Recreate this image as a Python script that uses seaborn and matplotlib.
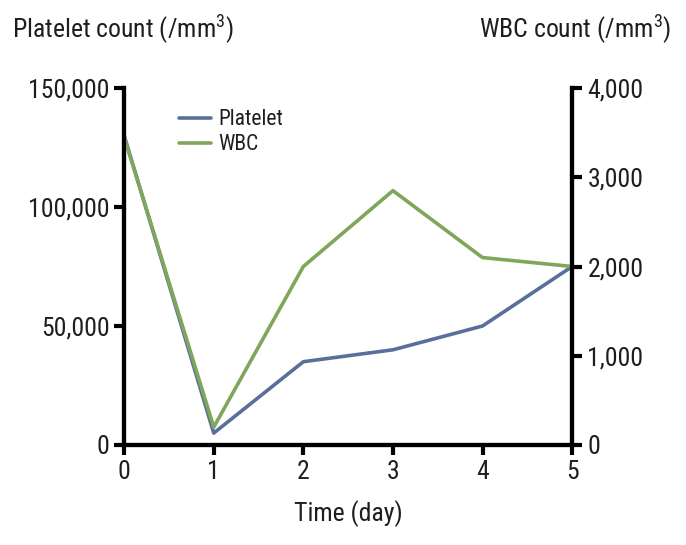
import pandas as pd
import numpy as np
import matplotlib
matplotlib.use("Agg")
import matplotlib.pyplot as plt
import seaborn as sns


# DATA

days = [0, 1, 2, 3, 4, 5]
platelet = [130000, 5000, 35000, 40000, 50000, 75000]
wbc = [3450, 200, 2000, 2850, 2100, 2000]

platelet_ticks = [0, 50000, 100000, 150000]
platelet_labels = ["0", "50,000", "100,000", "150,000"]
wbc_ticks = [0, 1000, 2000, 3000, 4000]
wbc_labels = ["0", "1,000", "2,000", "3,000", "4,000"]

df = pd.DataFrame({"day": days, "Platelet": platelet, "WBC": wbc})

sns.set_style("ticks")
plt.rcParams["font.family"] = ["Roboto Condensed", "Liberation Sans", "DejaVu Sans"]
plt.rcParams["mathtext.fontset"] = "custom"
plt.rcParams["mathtext.rm"] = "Roboto Condensed"
plt.rcParams["mathtext.it"] = "Roboto Condensed"
plt.rcParams["mathtext.default"] = "rm"

blue = "#5b6f9c"
green = "#7fa65b"
txt = "#1e1e1e"
fs = 18.5

fig = plt.figure(figsize=(6.86, 5.45), dpi=100)
ax = fig.add_axes([0.181, 0.1835, 0.653, 0.655])
ax2 = ax.twinx()

sns.lineplot(x="day", y="Platelet", data=df, ax=ax, color=blue, lw=2.6, label="Platelet", legend=False)
sns.lineplot(x="day", y="WBC", data=df, ax=ax2, color=green, lw=2.6, label="WBC", legend=False)

ax.set_xlim(0, 5)
ax.set_ylim(0, 150000)
ax2.set_ylim(0, 4000)

ax.set_xticks(days)
ax.set_yticks(platelet_ticks)
ax.set_yticklabels(platelet_labels)
ax2.set_yticks(wbc_ticks)
ax2.set_yticklabels(wbc_labels)

for a in (ax, ax2):
    a.spines["top"].set_visible(False)
    for s in ("left", "right", "bottom"):
        a.spines[s].set_linewidth(3)
        a.spines[s].set_color("black")
    a.tick_params(width=3, length=7, labelsize=fs, colors="black", labelcolor=txt)

ax.set_xlabel("Time (day)", fontsize=fs, labelpad=12, color=txt)
ax.set_ylabel("")
ax2.set_ylabel("")
ax2.tick_params(axis="y", pad=4)

fig.text(0.017, 0.945, "Platelet count (/mm$^3$)", fontsize=fs, ha="left", va="center", color=txt)
fig.text(0.978, 0.945, "WBC count (/mm$^3$)", fontsize=fs, ha="right", va="center", color=txt)

h1, l1 = ax.get_legend_handles_labels()
h2, l2 = ax2.get_legend_handles_labels()
ax.legend(h1 + h2, l1 + l2, loc="upper left", bbox_to_anchor=(0.08, 0.995),
          frameon=False, fontsize=15.5, handlelength=1.45, handletextpad=0.35,
          labelspacing=0.2, labelcolor=txt)

fig.savefig("out.png", dpi=100)
